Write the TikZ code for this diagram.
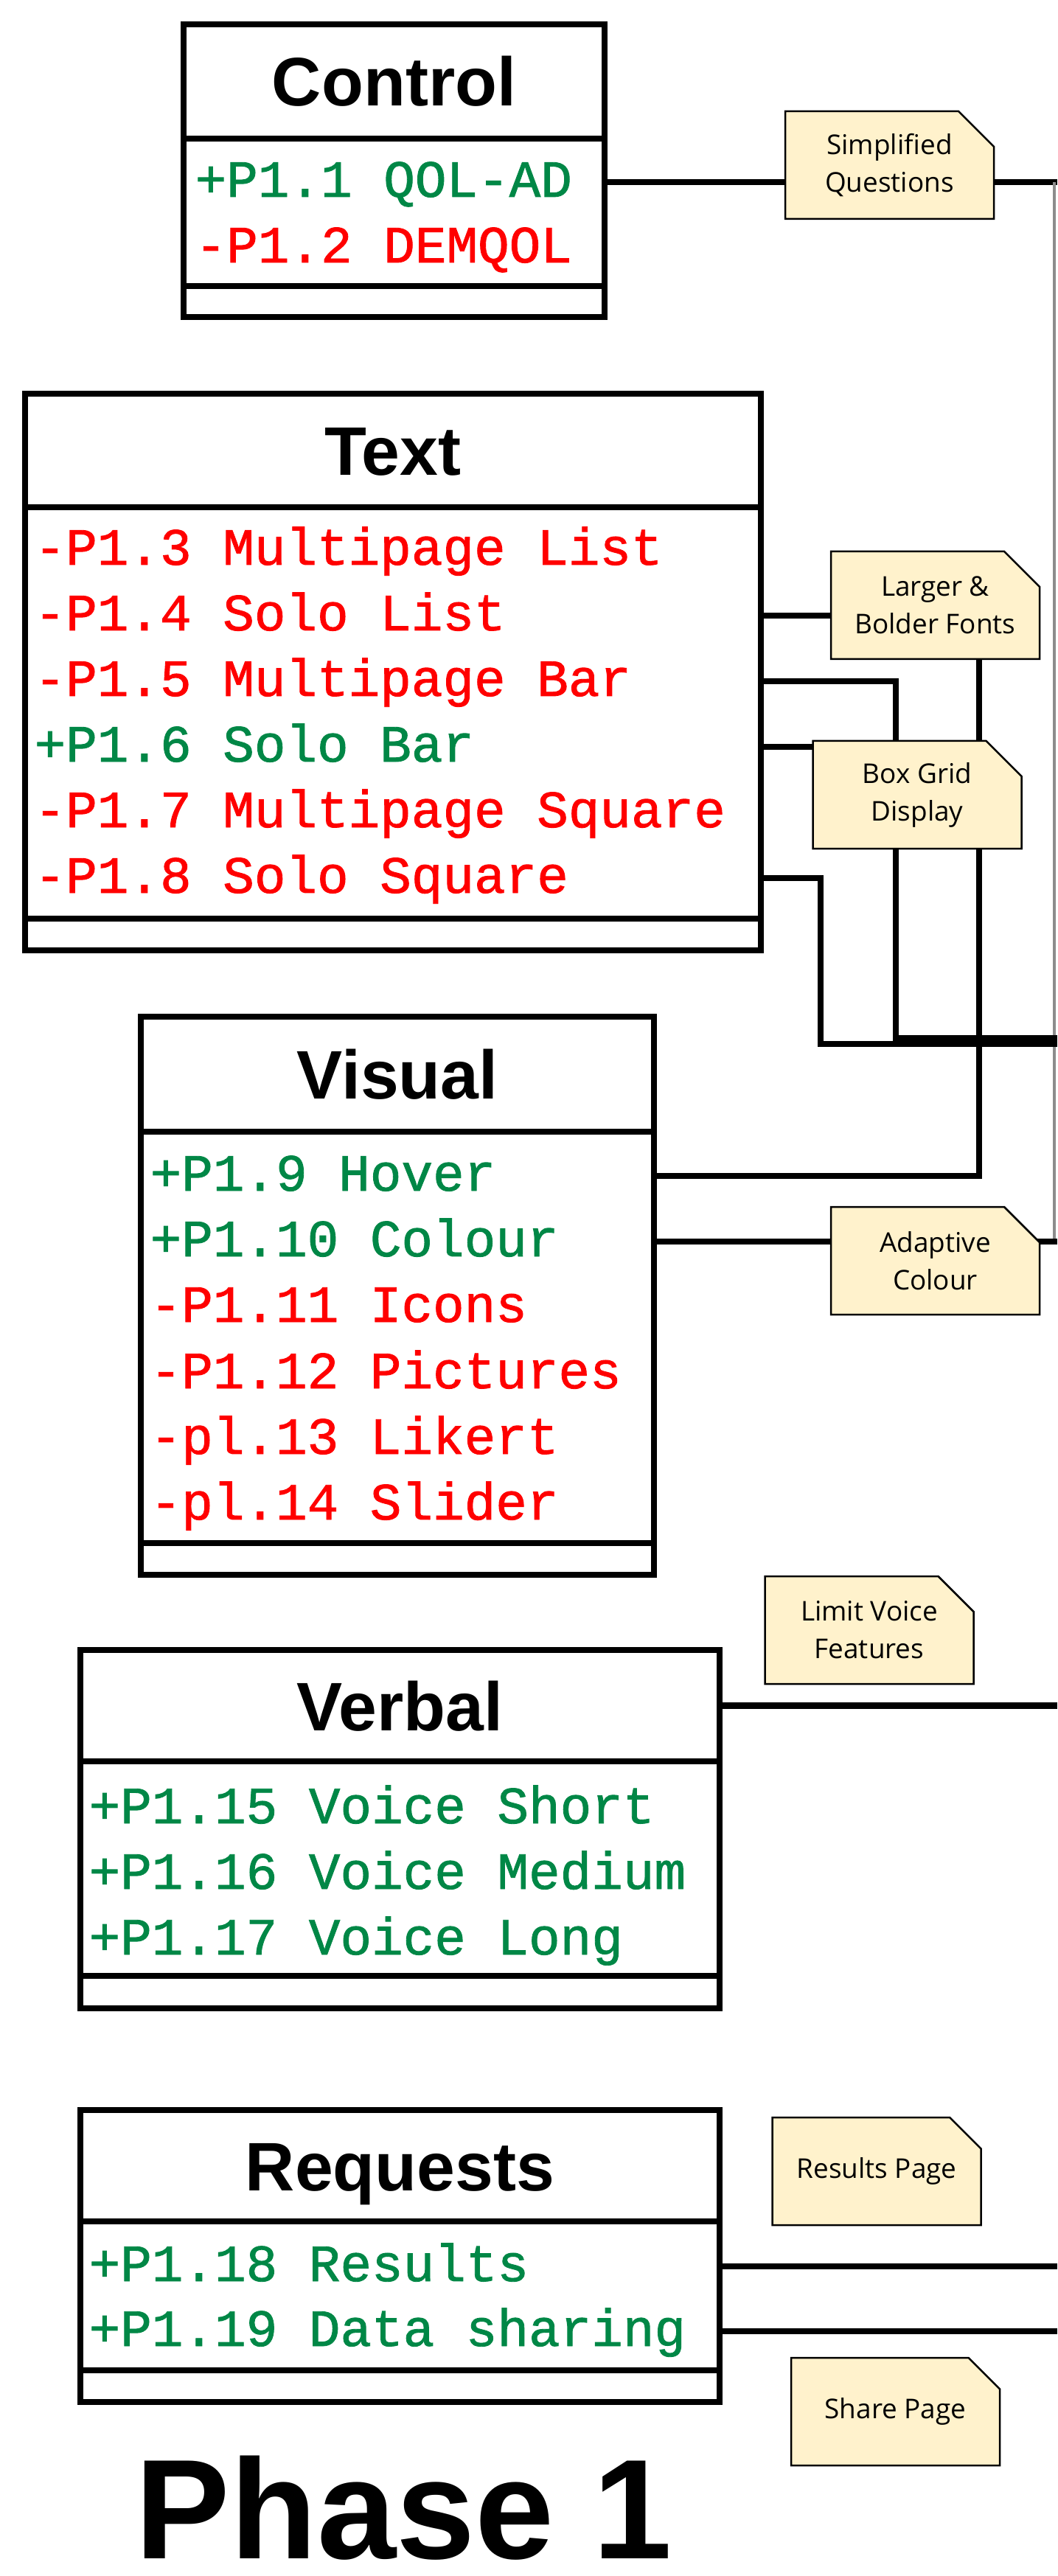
\documentclass[tikz,border=0pt]{standalone}
\usepackage{fontspec}
\usetikzlibrary{positioning,shapes.misc}
\newfontfamily\headfont{Liberation Sans}
\newfontfamily\rowfont[FakeBold=1.2]{Liberation Mono}
\newfontfamily\notefont{Open Sans}
\definecolor{okgreen}{RGB}{0,135,70}
\definecolor{nored}{RGB}{255,0,0}
\definecolor{notefill}{RGB}{255,242,204}

\begin{document}
\begin{tikzpicture}[
    classhead/.style={draw, line width=0.08cm, outer sep=0pt, inner sep=0pt, text height=0.67cm, text depth=0pt,
        font=\headfont\bfseries\fontsize{26.5pt}{30pt}\selectfont},
    classpart/.style={draw, line width=0.08cm, outer sep=0pt, inner sep=0pt},
    attrrow/.style={inner sep=0pt, text height=0.5cm, text depth=0.1cm, anchor=west,
        font=\rowfont\fontsize{20.2pt}{24pt}\selectfont},
    kept/.style={attrrow, text=okgreen},
    dropped/.style={attrrow, text=nored},
    notebox/.style={chamfered rectangle, chamfered rectangle corners=north east, chamfered rectangle sep=0.24cm,
        draw=black, line width=0.025cm, fill=notefill, minimum width=2.83cm, minimum height=1.46cm,
        inner sep=0pt, align=center, font=\notefont\fontsize{10.5pt}{14.5pt}\selectfont},
    twoline/.style={execute at begin node={\rule{0pt}{0.42cm}}},
    link/.style={line width=0.085cm},
    rimline/.style={line width=0.04cm, black!45}
]
    \useasboundingbox (0, 0) rectangle (14.34, -34.94);

    \coordinate (edge) at (14.34, 0);
    \coordinate (rim) at (14.30, 0);
    \coordinate (lane) at (13.28, 0);
    \coordinate (busa) at (12.15, -14.08);
    \coordinate (busb) at (11.13, -14.16);

    \node (ctrl) [classhead, minimum width=5.71cm, minimum height=1.55cm, anchor=north west] at (2.49, -0.33) {Control};
    \node (ctrlattr) [classpart, minimum width=5.71cm, minimum height=2.00cm, below=0pt of ctrl] {};
    \node (ctrlops) [classpart, minimum width=5.71cm, minimum height=0.42cm, below=0pt of ctrlattr] {};
    \node (p11) [kept] at (2.64, -2.47) {+P1.1 QOL-AD};
    \node (p12) [dropped] at (2.64, -3.36) {-P1.2 DEMQOL};

    \node (txt) [classhead, minimum width=9.98cm, minimum height=1.54cm, anchor=north west] at (0.34, -5.34) {Text};
    \node (txtattr) [classpart, minimum width=9.98cm, minimum height=5.58cm, below=0pt of txt] {};
    \node (txtops) [classpart, minimum width=9.98cm, minimum height=0.43cm, below=0pt of txtattr] {};
    \node (p13) [dropped] at (0.46, -7.46) {-P1.3 Multipage List};
    \node (p14) [dropped] at (0.46, -8.35) {-P1.4 Solo List};
    \node (p15) [dropped] at (0.46, -9.24) {-P1.5 Multipage Bar};
    \node (p16) [kept] at (0.46, -10.13) {+P1.6 Solo Bar};
    \node (p17) [dropped] at (0.46, -11.02) {-P1.7 Multipage Square};
    \node (p18) [dropped] at (0.46, -11.91) {-P1.8 Solo Square};

    \node (vis) [classhead, minimum width=6.96cm, minimum height=1.56cm, anchor=north west] at (1.91, -13.79) {Visual};
    \node (visattr) [classpart, minimum width=6.96cm, minimum height=5.58cm, below=0pt of vis] {};
    \node (visops) [classpart, minimum width=6.96cm, minimum height=0.43cm, below=0pt of visattr] {};
    \node (p19) [kept] at (2.03, -15.95) {+P1.9 Hover};
    \node (p110) [kept] at (2.03, -16.84) {+P1.10 Colour};
    \node (p111) [dropped] at (2.03, -17.73) {-P1.11 Icons};
    \node (p112) [dropped] at (2.03, -18.63) {-P1.12 Pictures};
    \node (p113) [dropped] at (2.03, -19.52) {-pl.13 Likert};
    \node (p114) [dropped] at (2.03, -20.41) {-pl.14 Slider};

    \node (verb) [classhead, minimum width=8.67cm, minimum height=1.51cm, anchor=north west] at (1.09, -22.38) {Verbal};
    \node (verbattr) [classpart, minimum width=8.67cm, minimum height=2.91cm, below=0pt of verb] {};
    \node (verbops) [classpart, minimum width=8.67cm, minimum height=0.44cm, below=0pt of verbattr] {};
    \node (p115) [kept] at (1.20, -24.53) {+P1.15 Voice Short};
    \node (p116) [kept] at (1.20, -25.42) {+P1.16 Voice Medium};
    \node (p117) [kept] at (1.20, -26.31) {+P1.17 Voice Long};

    \node (req) [classhead, minimum width=8.67cm, minimum height=1.51cm, anchor=north west] at (1.09, -28.62) {Requests};
    \node (reqattr) [classpart, minimum width=8.67cm, minimum height=2.02cm, below=0pt of req] {};
    \node (reqops) [classpart, minimum width=8.67cm, minimum height=0.43cm, below=0pt of reqattr] {};
    \node (p118) [kept] at (1.20, -30.74) {+P1.18 Results};
    \node (p119) [kept] at (1.20, -31.62) {+P1.19 Data sharing};

    \node (phase) [inner sep=0pt, font=\headfont\bfseries\fontsize{54.8pt}{60pt}\selectfont, anchor=base] at (5.48, -34.70) {Phase 1};

    % links run under the notes
    \draw[link] (p11 -| ctrlattr.east) -- (p11 -| edge);
    \draw[rimline] (p11 -| rim) -- (p110 -| rim);
    \draw[link] (p110 -| edge) -- (p110 -| visattr.east);
    \draw[link] (p14 -| txtattr.east) -- (p14 -| lane);
    \draw[link] (lane |- p14) -- (lane |- p19) -- (p19 -| visattr.east);
    \draw[link] (p15 -| txtattr.east) -| (busa) -- (busa -| edge);
    \draw[link] (p16 -| txtattr.east) -- (p16 -| busa);
    \draw[link] (p18 -| txtattr.east) -| (busb) -- (busb -| edge);
    \draw[link] (verb.east) -- (verb.east -| edge);
    \draw[link] (p118 -| reqattr.east) -- (p118 -| edge);
    \draw[link] (p119 -| reqattr.east) -- (p119 -| edge);

    \node (sq) [notebox, twoline] at (12.065, -2.24) {Simplified\\Questions};
    \node (lbf) [notebox, twoline] at (12.685, -8.21) {Larger \&\\Bolder Fonts};
    \node (bgd) [notebox, twoline] at (12.44, -10.78) {Box Grid\\Display};
    \node (ac) [notebox, twoline] at (12.685, -17.10) {Adaptive\\Colour};
    \node (lvf) [notebox, twoline] at (11.79, -22.11) {Limit Voice\\Features};
    \node (rp) [notebox] at (11.89, -29.45) {Results Page};
    \node (sp) [notebox] at (12.145, -32.71) {Share Page};
\end{tikzpicture}
\end{document}
